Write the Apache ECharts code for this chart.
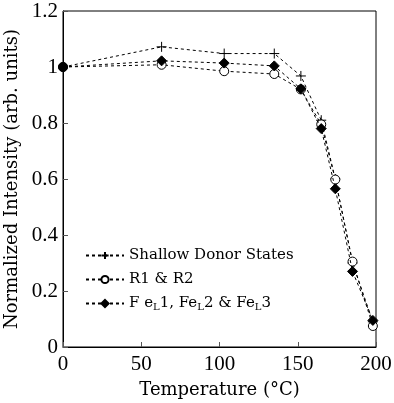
<!DOCTYPE html>
<html><head><meta charset="utf-8">
<script src="https://cdn.jsdelivr.net/npm/echarts@6/dist/echarts.min.js"></script>
<style>html,body{margin:0;padding:0;background:#fff}#c{width:394px;height:403px}</style>
</head><body><div id="c"></div>
<script>
const temps = [0, 63, 103, 135, 152, 165, 174, 185, 198];
const shallow = [1.0, 1.072, 1.048, 1.048, 0.968, 0.81, 0.6, 0.3, 0.09];
const r1r2 = [1.0, 1.008, 0.985, 0.975, 0.92, 0.795, 0.598, 0.305, 0.075];
const fe = [1.0, 1.022, 1.014, 1.004, 0.922, 0.78, 0.565, 0.27, 0.095];
const xTicks = [0, 50, 100, 150, 200];
const yTicks = [0, 0.2, 0.4, 0.6, 0.8, 1.0, 1.2];
const names = ['Shallow Donor States', 'R1 & R2', 'Fe1'];

const font = 'Liberation Serif';
const wfont = 'DejaVu Serif';
const pair = a => temps.map((t, i) => [t, a[i]]);
const lineStyle = {color: '#000', width: 1, type: [3, 3]};
const chart = echarts.init(document.getElementById('c'), null, {renderer: 'canvas'});
chart.setOption({
  animation: false,
  backgroundColor: '#fff',
  grid: {left: 63, right: 18, top: 11, bottom: 56, show: true, borderColor: '#000', borderWidth: 1,
         containLabel: false, outerBoundsMode: 'none'},
  xAxis: {
    type: 'value', min: 0, max: 200, interval: 50,
    name: 'Temperature (°C)', nameLocation: 'middle', nameGap: 34,
    nameTextStyle: {fontFamily: wfont, fontSize: 18, color: '#000'},
    axisLine: {lineStyle: {color: '#000'}},
    axisTick: {inside: true, length: 5, lineStyle: {color: '#555'}},
    axisLabel: {fontFamily: font, fontSize: 21, color: '#000', margin: 7},
    splitLine: {show: false}
  },
  yAxis: {
    type: 'value', min: 0, max: 1.2, interval: 0.2,
    name: 'Normalized Intensity (arb. units)', nameLocation: 'middle', nameGap: 41,
    nameTextStyle: {fontFamily: wfont, fontSize: 18, color: '#000'},
    axisLine: {lineStyle: {color: '#000'}},
    axisTick: {inside: true, length: 5, lineStyle: {color: '#555'}},
    axisLabel: {fontFamily: font, fontSize: 21, color: '#000', margin: 5,
      formatter: v => String(+v.toFixed(1))},
    splitLine: {show: false}
  },
  legend: {
    left: 80, top: 243, orient: 'vertical', itemGap: 9, itemWidth: 38, itemHeight: 9,
    data: names,
    textStyle: {fontFamily: wfont, fontSize: 15, color: '#000',
      rich: {s: {fontFamily: wfont, fontSize: 10, color: '#000', verticalAlign: 'bottom', padding: [8, 0, 0, 0]},
             n: {fontFamily: wfont, fontSize: 15, color: '#000'}}},
    formatter: n => n === 'Fe1' ? '{n|F e}{s|L}{n|1, Fe}{s|L}{n|2 & Fe}{s|L}{n|3}' : n
  },
  series: [
    {name: names[0], type: 'line', data: pair(shallow), symbol: 'path://M0,5L10,5M5,0L5,10', symbolSize: 10,
     itemStyle: {color: 'rgba(0,0,0,0)', borderColor: '#000', borderWidth: 1}, lineStyle: lineStyle, z: 2},
    {name: names[1], type: 'line', data: pair(r1r2), symbol: 'circle', symbolSize: 9,
     itemStyle: {color: '#fff', borderColor: '#000', borderWidth: 1}, lineStyle: lineStyle, z: 3},
    {name: names[2], type: 'line',
     data: pair(fe).map((p, i) => i === 0 ? {value: p, symbol: 'circle', symbolSize: 9} : p),
     symbol: 'diamond', symbolSize: 10,
     itemStyle: {color: '#000', borderColor: '#000', borderWidth: 1}, lineStyle: lineStyle, z: 4}
  ]
});
</script></body></html>
